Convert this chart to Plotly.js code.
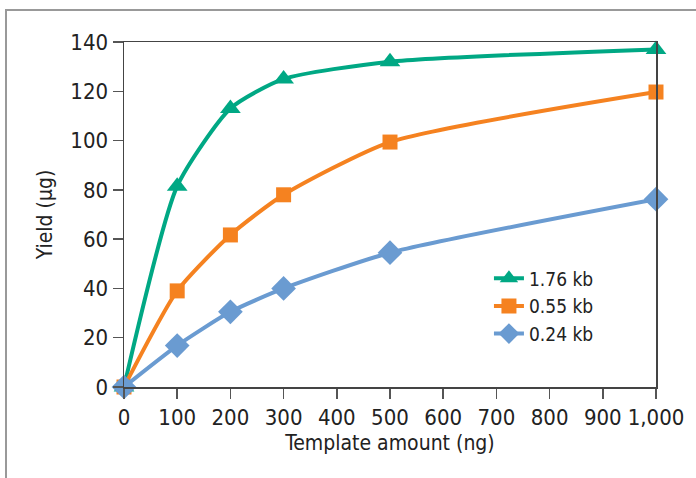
<!DOCTYPE html>
<html>
<head>
<meta charset="utf-8">
<script src="https://cdn.plot.ly/plotly-3.0.1.min.js"></script>
<style>html,body{margin:0;padding:0;background:#fff;}#chart{width:696px;height:478px;}</style>
</head>
<body>
<div id="chart"></div>
<script>
var templateNg = [0, 100, 200, 300, 500, 1000];
var yield176 = [0, 81.5, 113, 125, 132, 137];
var yield055 = [0, 39, 61.7, 78, 99.4, 119.7];
var yield024 = [0, 16.8, 30.5, 40, 54.5, 76.2];
var seriesNames = ['1.76 kb', '0.55 kb', '0.24 kb'];
var xTicks = [0, 100, 200, 300, 400, 500, 600, 700, 800, 900, 1000];
var yTicks = [0, 20, 40, 60, 80, 100, 120, 140];

var FONT = '"DejaVu Sans Condensed", "Liberation Sans Narrow", Arial, sans-serif';

function tr(y, name, color, symbol, size) {
  return {
    x: templateNg, y: y, name: name, type: 'scatter', mode: 'lines+markers',
    line: {color: color, width: 4, shape: 'spline', smoothing: 0.6},
    marker: {color: color, symbol: symbol, size: size},
    cliponaxis: false
  };
}

var data = [
  tr(yield176, seriesNames[0], '#00A884', 'triangle-up', 18),
  tr(yield055, seriesNames[1], '#F58220', 'square', 15),
  tr(yield024, seriesNames[2], '#6A9BD1', 'diamond', 19)
];

var layout = {
  width: 696, height: 478,
  margin: {l: 124, r: 40, t: 42, b: 91},
  paper_bgcolor: '#fff', plot_bgcolor: '#fff',
  font: {family: FONT, size: 20, color: '#222'},
  separators: '.,',
  showlegend: true,
  legend: {x: 0.686, y: 0.37, xanchor: 'left', yanchor: 'top',
           font: {family: FONT, size: 19, color: '#222'},
           bgcolor: 'rgba(0,0,0,0)', tracegroupgap: 0},
  xaxis: {
    range: [0, 1000], tickvals: xTicks, tickformat: ',d',
    showgrid: false, zeroline: false,
    showline: true, linecolor: '#444', linewidth: 1.5, mirror: true,
    ticks: 'outside', ticklen: 10, tickcolor: '#555', tickwidth: 1.5,
    tickfont: {family: FONT, size: 22, color: '#222'},
    title: {text: 'Template amount (ng)', font: {family: FONT, size: 21, color: '#222'}, standoff: 6}
  },
  yaxis: {
    range: [0, 140], tickvals: yTicks,
    showgrid: false, zeroline: false,
    showline: true, linecolor: '#444', linewidth: 1.5, mirror: true,
    ticks: 'outside', ticklen: 10, tickcolor: '#555', tickwidth: 1.5,
    tickfont: {family: FONT, size: 22, color: '#222'},
    title: {text: 'Yield (µg)', font: {family: FONT, size: 21, color: '#222'}, standoff: 12}
  },
  shapes: [{
    type: 'rect', xref: 'paper', yref: 'paper',
    x0: (6 - 124) / 532, x1: 1.2, y0: -0.5, y1: (387 - 10) / 345,
    line: {color: '#999', width: 2}, fillcolor: 'rgba(0,0,0,0)', layer: 'below'
  }]
};

Plotly.newPlot('chart', data, layout, {displayModeBar: false, staticPlot: true});
</script>
</body>
</html>
